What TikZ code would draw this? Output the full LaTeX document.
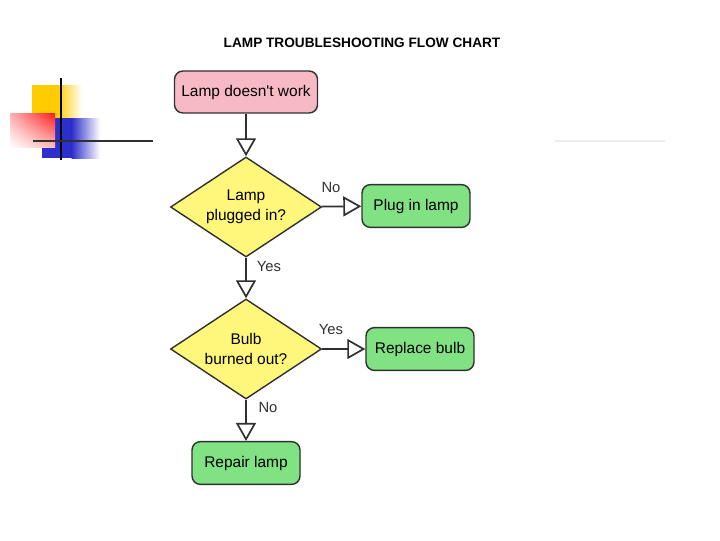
\documentclass[tikz,border=0pt]{standalone}
\usepackage{fontspec}
\setmainfont{Liberation Sans}
\usetikzlibrary{shapes.geometric,arrows.meta,shadings}
\definecolor{startpink}{HTML}{F7BAC4}
\definecolor{askyellow}{HTML}{FFF67C}
\definecolor{dogreen}{HTML}{80E283}
\definecolor{edgegray}{HTML}{303030}
\definecolor{decoyellow}{HTML}{FFCC00}
\definecolor{decored}{HTML}{FF1A1A}
\definecolor{decoblue}{HTML}{2E2ECC}
\tikzset{
  box/.style={draw=edgegray, line width=1pt, rounded corners=6pt, inner sep=0pt,
    font=\fontsize{11}{14}\selectfont},
  startbox/.style={box, fill=startpink, minimum width=3.575cm, minimum height=1.05cm},
  actbox/.style={box, fill=dogreen, minimum width=2.7cm, minimum height=1.07cm},
  askbox/.style={diamond, aspect=1.5, draw=edgegray, line width=1pt, fill=askyellow,
    inner sep=0pt, minimum width=3.775cm, minimum height=2.5cm, align=center,
    font=\fontsize{11}{14}\selectfont},
  flow/.style={draw=edgegray, line width=1.2pt,
    -{Triangle[open,length=0.45cm,width=0.5cm,fill=white]}},
  answer/.style={font=\fontsize{10.5}{12}\selectfont, text=edgegray}
}
\begin{document}
\begin{tikzpicture}[x=0.025cm,y=-0.025cm]
\useasboundingbox (0,0) rectangle (720,540);
% corner decoration
\fill[decoyellow] (32,85) rectangle (58,118);
\shade[left color=decoyellow, right color=white] (57.5,85) rectangle (82,118);
\fill[decoblue] (42,118) rectangle (72,158);
\shade[left color=decoblue, right color=white] (71.5,118) rectangle (100,158);
\shade[upper right=decored, upper left=decored!35, lower right=decored!30,
  lower left=white] (10,113) rectangle (55,147);
\draw[black, line width=2pt] (61,78) -- (61,160);
\draw[edgegray, line width=2pt] (33,141) -- (153,141);
\draw[black!7, line width=1.5pt] (555,141) -- (665,141);
% title
\node[font=\fontsize{9.7}{12}\selectfont\bfseries] (title) at (362,43) {LAMP TROUBLESHOOTING FLOW CHART};
% chart
\node[startbox] (start) at (246,92) {Lamp doesn\textquotesingle t work};
\node[askbox] (plugged) at (246,207) {Lamp\\plugged in?};
\node[actbox] (plug) at (416,206) {Plug in lamp};
\node[askbox] (bulb) at (246,349) {Bulb\\burned out?};
\node[actbox] (replace) at (420,349) {Replace bulb};
\node[actbox] (repair) at (246,463) {Repair lamp};
\draw[flow] (start) -- (plugged);
\draw[flow] (plugged) -- (plug);
\draw[flow] (plugged) -- (bulb);
\draw[flow] (bulb) -- (replace);
\draw[flow] (bulb) -- (repair);
\node[answer] (no1) at (331,187) {No};
\node[answer] (yes1) at (269,266) {Yes};
\node[answer] (yes2) at (331,329) {Yes};
\node[answer] (no2) at (268,407) {No};
\end{tikzpicture}
\end{document}
